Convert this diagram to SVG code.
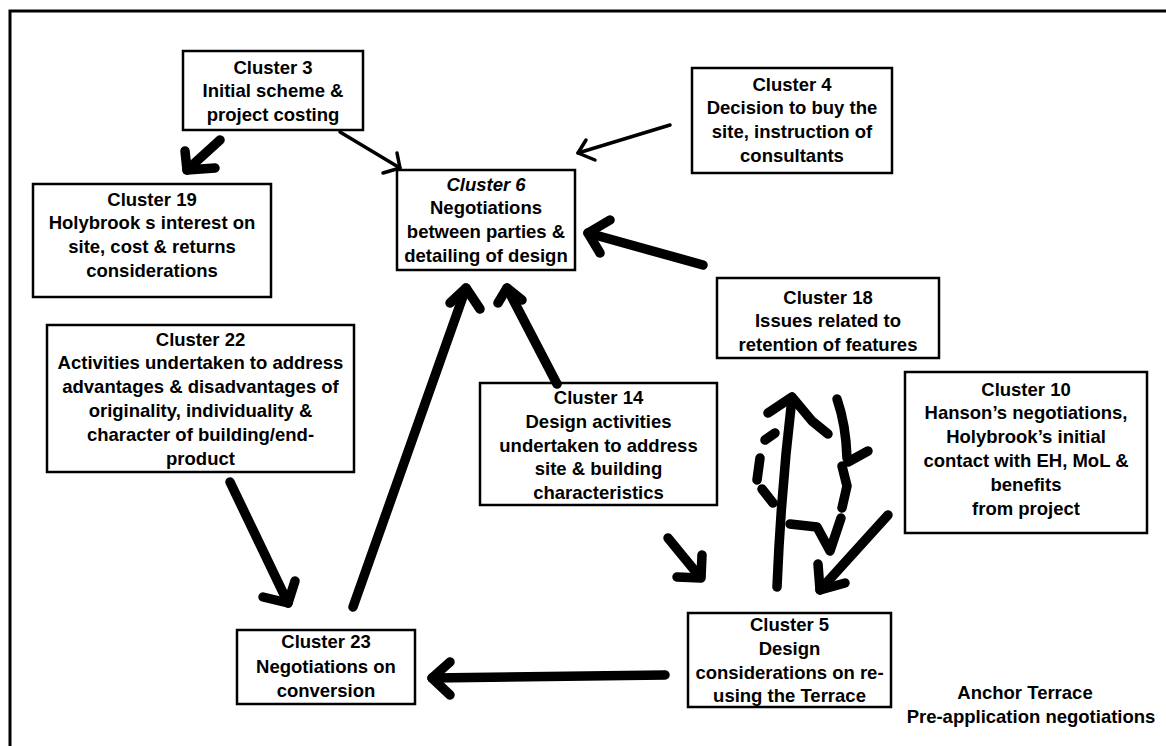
<svg xmlns="http://www.w3.org/2000/svg" width="1166" height="746" viewBox="0 0 1166 746">
  <style>
    .frame { fill: none; stroke: #000; stroke-width: 3; }
    .box { fill: #fff; stroke: #000; stroke-width: 2.5; }
    .t { font-family: "Liberation Sans", Arial, sans-serif; font-weight: bold; font-size: 18.5px; text-anchor: middle; fill: #000; }
    .it { font-style: italic; }
    .cap { font-family: "Liberation Sans", Arial, sans-serif; font-weight: bold; font-size: 18.5px; text-anchor: middle; fill: #000; }
    .thick { fill: none; stroke: #000; stroke-width: 9.5; stroke-linecap: round; stroke-linejoin: round; }
    .thin { fill: none; stroke: #000; stroke-width: 3.5; stroke-linecap: round; stroke-linejoin: round; }
  </style>
  <rect width="1166" height="746" fill="#fff"/>

  <!-- page frame (top and left edges only) -->
  <path class="frame" d="M10,746 L10,11 L1166,11"/>

  <g id="cluster3">
    <rect class="box" x="183" y="51" width="180" height="79"/>
    <text class="t" x="273" y="73.5">Cluster 3</text>
    <text class="t" x="273" y="97.3">Initial scheme &amp;</text>
    <text class="t" x="273" y="121.1">project costing</text>
  </g>

  <g id="cluster19">
    <rect class="box" x="33" y="184" width="238" height="113"/>
    <text class="t" x="152" y="205.5">Cluster 19</text>
    <text class="t" x="152" y="229.3">Holybrook s interest on</text>
    <text class="t" x="152" y="253.1">site, cost &amp; returns</text>
    <text class="t" x="152" y="276.9">considerations</text>
  </g>

  <g id="cluster6">
    <rect class="box" x="397" y="170" width="178" height="100"/>
    <text class="t it" x="486" y="190.5">Cluster 6</text>
    <text class="t" x="486" y="214.3">Negotiations</text>
    <text class="t" x="486" y="238.1">between parties &amp;</text>
    <text class="t" x="486" y="261.9">detailing of design</text>
  </g>

  <g id="cluster4">
    <rect class="box" x="692" y="68" width="200" height="105"/>
    <text class="t" x="792" y="90.5">Cluster 4</text>
    <text class="t" x="792" y="114.3">Decision to buy the</text>
    <text class="t" x="792" y="138.1">site, instruction of</text>
    <text class="t" x="792" y="161.9">consultants</text>
  </g>

  <g id="cluster18">
    <rect class="box" x="717" y="278" width="222" height="80"/>
    <text class="t" x="828" y="303.5">Cluster 18</text>
    <text class="t" x="828" y="327.3">Issues related to</text>
    <text class="t" x="828" y="351.1">retention of features</text>
  </g>

  <g id="cluster22">
    <rect class="box" x="47" y="325" width="307" height="147"/>
    <text class="t" x="200.5" y="345.5">Cluster 22</text>
    <text class="t" x="200.5" y="369.3">Activities undertaken to address</text>
    <text class="t" x="200.5" y="393.1">advantages &amp; disadvantages of</text>
    <text class="t" x="200.5" y="416.9">originality, individuality &amp;</text>
    <text class="t" x="200.5" y="440.7">character of building/end-</text>
    <text class="t" x="200.5" y="464.5">product</text>
  </g>

  <g id="cluster14">
    <rect class="box" x="480" y="383" width="237" height="122"/>
    <text class="t" x="598.5" y="404">Cluster 14</text>
    <text class="t" x="598.5" y="427.8">Design activities</text>
    <text class="t" x="598.5" y="451.6">undertaken to address</text>
    <text class="t" x="598.5" y="475.4">site &amp; building</text>
    <text class="t" x="598.5" y="499.2">characteristics</text>
  </g>

  <g id="cluster10">
    <rect class="box" x="905" y="372" width="242" height="161"/>
    <text class="t" x="1026" y="395.5">Cluster 10</text>
    <text class="t" x="1026" y="419.3">Hanson’s negotiations,</text>
    <text class="t" x="1026" y="443.1">Holybrook’s initial</text>
    <text class="t" x="1026" y="466.9">contact with EH, MoL &amp;</text>
    <text class="t" x="1026" y="490.7">benefits</text>
    <text class="t" x="1026" y="514.5">from project</text>
  </g>

  <g id="cluster5">
    <rect class="box" x="688" y="613" width="203" height="94"/>
    <text class="t" x="789.5" y="631">Cluster 5</text>
    <text class="t" x="789.5" y="654.8">Design</text>
    <text class="t" x="789.5" y="678.6">considerations on re-</text>
    <text class="t" x="789.5" y="702.4">using the Terrace</text>
  </g>

  <g id="cluster23">
    <rect class="box" x="237" y="630" width="178" height="74"/>
    <text class="t" x="326" y="648">Cluster 23</text>
    <text class="t" x="326" y="672.5">Negotiations on</text>
    <text class="t" x="326" y="697">conversion</text>
  </g>

  <g id="caption">
    <text class="cap" x="1025" y="699">Anchor Terrace</text>
    <text class="cap" x="1031" y="723">Pre-application negotiations</text>
  </g>

  <g id="connectors">
    <!-- 3 -> 19 -->
    <path class="thick" d="M220,140 L187,170"/>
    <path class="thick" d="M185,151 L187,170 L215,168"/>
    <!-- 3 -> 6 -->
    <path class="thin" d="M340,132 L400,168"/>
    <path class="thin" d="M397,153 L400,168 L383,173"/>
    <!-- 4 -> 6 -->
    <path class="thin" d="M670,125 L578,153"/>
    <path class="thin" d="M586,140 L578,153 L595,160"/>
    <!-- 18 -> 6 -->
    <path class="thick" d="M703,265 L588,233"/>
    <path class="thick" d="M610,220 L588,233 L600,253"/>
    <!-- 22 -> 23 -->
    <path class="thick" d="M230,482 L288,603"/>
    <path class="thick" d="M295,581 L288,603 L263,597"/>
    <!-- 23 -> 6 -->
    <path class="thick" d="M353,607 L466,288"/>
    <path class="thick" d="M450,303 L466,288 L480,309"/>
    <!-- 14 -> 6 -->
    <path class="thick" d="M557,384 L507,288"/>
    <path class="thick" d="M498,303 L507,288 L522,300"/>
    <!-- 14 -> 5 -->
    <path class="thick" d="M668,538 L700,577"/>
    <path class="thick" d="M677,577 L701,578 L702,555"/>
    <!-- 10 -> 5 -->
    <path class="thick" d="M888,515 L820,590"/>
    <path class="thick" d="M818,564 L820,590 L845,583"/>
    <!-- 5 -> 23 -->
    <path class="thick" d="M665,675 L432,678"/>
    <path class="thick" d="M450,662 L432,678 L450,695"/>
    <!-- 5 <-> 18 loop -->
    <path class="thick" d="M777,587 Q781,490 792,398"/>
    <path class="thick" d="M768,413 L792,397 L812,421 L828,434"/>
    <path class="thick" d="M837,399 Q846,425 847,458"/>
    <path class="thick" d="M848,462 L868,451"/>
    <path class="thick" d="M842,466 L847,486 L842,508"/>
    <path class="thick" d="M790,524 L817,527 L830,551 L841,518"/>
    <path class="thick" d="M765,440 L775,433"/>
    <path class="thick" d="M760,458 L757,480"/>
    <path class="thick" d="M762,489 L773,503"/>
  </g>
</svg>
